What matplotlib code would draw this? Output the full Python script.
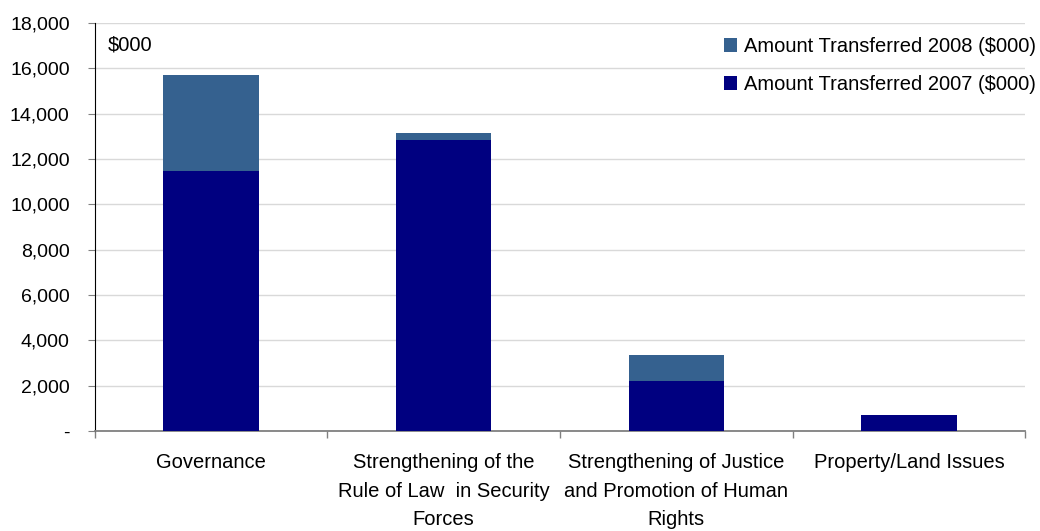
import matplotlib
matplotlib.use("Agg")
import matplotlib.pyplot as plt
import numpy as np
from matplotlib.ticker import FuncFormatter, FixedLocator

plt.rcParams["font.family"] = ["Liberation Sans", "DejaVu Sans"]

categories = [
    "Governance",
    "Strengthening of the\nRule of Law  in Security\nForces",
    "Strengthening of Justice\nand Promotion of Human\nRights",
    "Property/Land Issues",
]
transferred_2007 = [11470, 12840, 2210, 700]
transferred_2008 = [4240, 310, 1140, 0]
y_ticks = list(range(0, 18001, 2000))

color_2007 = "#000080"
color_2008 = "#35618F"

fig = plt.figure(figsize=(10.4, 5.31), dpi=100)
ax = fig.add_axes([0.091, 0.188, 0.895, 0.769])

x = np.arange(len(categories))
width = 0.41
b07 = ax.bar(x, transferred_2007, width, color=color_2007, zorder=3,
             label="Amount Transferred 2007 ($000)")
b08 = ax.bar(x, transferred_2008, width, bottom=transferred_2007, color=color_2008,
             zorder=3, label="Amount Transferred 2008 ($000)")

ax.set_xlim(-0.5, len(categories) - 0.5)
ax.set_ylim(0, 18000)
ax.set_yticks(y_ticks)
ax.yaxis.set_major_formatter(FuncFormatter(lambda v, _: "-" if v == 0 else f"{int(v):,}"))
ax.grid(axis="y", color="#d9d9d9", linewidth=1, zorder=0)

# category labels centred under bars, separator ticks between categories
ax.set_xticks(x)
ax.set_xticklabels(categories, fontsize=14.5, linespacing=1.62, va="top")
ax.tick_params(axis="x", length=0, pad=16)
ax.xaxis.set_minor_locator(FixedLocator(np.arange(-0.5, len(categories), 1.0)))
ax.tick_params(axis="x", which="minor", length=5, color="#808080", width=1)
ax.tick_params(axis="y", labelsize=14, length=5, color="#808080", pad=13)

for side in ("top", "right"):
    ax.spines[side].set_visible(False)
ax.spines["left"].set_color("black")
ax.spines["bottom"].set_color("#808080")
ax.spines["bottom"].set_linewidth(1.3)

ax.text(0.014, 0.945, "$000", transform=ax.transAxes, fontsize=14.5, va="center")

ax.legend(handles=[b08, b07], loc="upper right",
          bbox_to_anchor=(1036 / 1040, 1 - 37 / 531), bbox_transform=fig.transFigure,
          frameon=False, fontsize=14.5, handlelength=0.65, handleheight=0.65,
          handletextpad=0.35, labelspacing=0.95, borderpad=0, borderaxespad=0)

fig.savefig("out.png", dpi=100)
